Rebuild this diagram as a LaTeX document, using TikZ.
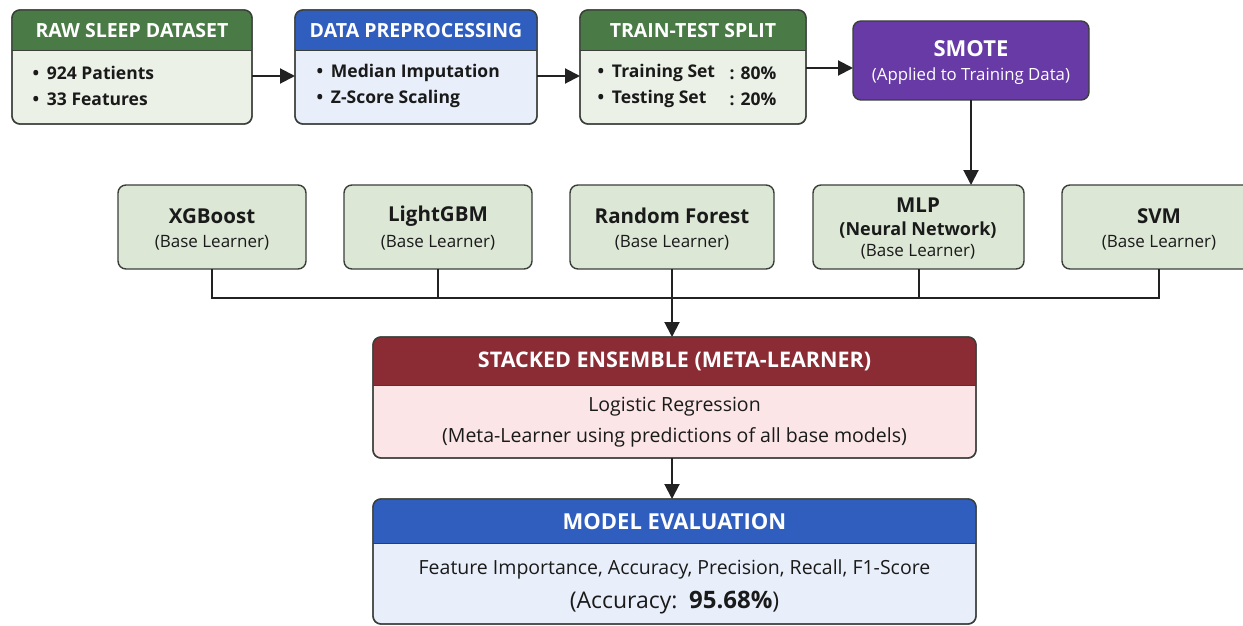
\documentclass[tikz,border=0pt]{standalone}
\usepackage{fontspec}
\setmainfont{Open Sans}
\usetikzlibrary{arrows.meta}
\definecolor{ghdr}{HTML}{4A7A46}
\definecolor{gbody}{HTML}{EBF1E7}
\definecolor{gbox}{HTML}{DCE7D5}
\definecolor{bhdr}{HTML}{2F5EBE}
\definecolor{bbody}{HTML}{E9EFFA}
\definecolor{purp}{HTML}{673AA6}
\definecolor{rhdr}{HTML}{8B2B34}
\definecolor{rbody}{HTML}{FBE5E6}
\definecolor{bordc}{HTML}{3A3F3A}
\definecolor{linec}{HTML}{222222}
\definecolor{txt}{HTML}{1A1A1A}
\tikzset{
  arr/.style={-{Triangle[length=15pt,width=15pt]}, line width=2pt, draw=linec},
  bus/.style={line width=2pt, draw=linec},
  hdrtxt/.style={text=white, font=\bfseries\fontsize{19.5}{22}\selectfont},
  bultxt/.style={text=txt, anchor=west, font=\bfseries\fontsize{17.5}{20}\selectfont},
  ttl/.style={text=txt, font=\bfseries\fontsize{20.5}{23}\selectfont},
  sub/.style={text=txt, font=\fontsize{17}{20}\selectfont},
  plain/.style={text=txt, font=\fontsize{19.5}{22}\selectfont},
}
% name, x1, y1, x2, y2, header bottom, header colour, body colour
\newcommand\mkbox[8]{%
  \node[draw=bordc, line width=1.4pt, rounded corners=8pt, fill=#8, inner sep=0pt, outer sep=0pt,
        minimum width=#4pt-#2pt, minimum height=#5pt-#3pt, anchor=north west] (#1) at (#2,#3) {};
  \begin{scope}
    \clip (#2,#3) rectangle (#4,#6);
    \fill[#7, rounded corners=8pt] (#1.south west) rectangle (#1.north east);
  \end{scope}
  \draw[bordc, line width=1.4pt, rounded corners=8pt] (#1.south west) rectangle (#1.north east);
  \draw[bordc, line width=1pt] (#2,#6) -- (#4,#6);
}
\newcommand\plainbox[6]{%
  \node[draw=bordc, line width=1.4pt, rounded corners=8pt, fill=#6, inner sep=0pt, outer sep=0pt,
        minimum width=#4pt-#2pt, minimum height=#5pt-#3pt, anchor=north west] (#1) at (#2,#3) {};
}
\newcommand\bul{\textbullet\hspace{0.45em}}
\begin{document}
\begin{tikzpicture}[x=1pt, y=-1pt]
\useasboundingbox (0,0) rectangle (1243,626);
\clip (0,0) rectangle (1243,626);
\fill[white] (0,0) rectangle (1243,626);

% top row
\mkbox{raw}{12}{10}{252}{124}{51}{ghdr}{gbody}
\node[hdrtxt] (rawh) at (132,31) {RAW SLEEP DATASET};
\node[bultxt] (raw1) at (29,73) {\bul 924 Patients};
\node[bultxt] (raw2) at (29,99) {\bul 33 Features};

\mkbox{prep}{295}{10}{537}{124}{51}{bhdr}{bbody}
\node[hdrtxt] (preph) at (416,31) {DATA PREPROCESSING};
\node[bultxt] (prep1) at (313,73) {\bul Median Imputation};
\node[bultxt] (prep2) at (313,99) {\bul Z-Score Scaling};

\mkbox{train}{580}{10}{806}{124}{51}{ghdr}{gbody}
\node[hdrtxt] (trainh) at (693,31) {TRAIN-TEST SPLIT};
\node[bultxt] (train1) at (594,73) {\bul Training Set};
\node[bultxt] (train2) at (594,99) {\bul Testing Set};
\node[bultxt] (train1v) at (726,73) {: 80\%};
\node[bultxt] (train2v) at (726,99) {: 20\%};

\plainbox{smote}{853}{21}{1089}{100}{purp}
\node[text=white, font=\bfseries\fontsize{22}{24}\selectfont] (smoteh) at (971,49) {SMOTE};
\node[text=white, font=\fontsize{16.8}{19}\selectfont] (smotes) at (971,76) {(Applied to Training Data)};

% base learners
\plainbox{xgb}{118}{185}{306}{269}{gbox}
\node[ttl] (xgbt) at (212,216) {XGBoost};
\node[sub] (xgbs) at (212,243) {(Base Learner)};

\plainbox{lgb}{344}{185}{532}{269}{gbox}
\node[ttl] (lgbt) at (438,216) {LightGBM};
\node[sub] (lgbs) at (438,243) {(Base Learner)};

\plainbox{rf}{570}{185}{774}{269}{gbox}
\node[ttl] (rft) at (672,216) {Random Forest};
\node[sub] (rfs) at (672,243) {(Base Learner)};

\plainbox{mlp}{813}{185}{1024}{269}{gbox}
\node[ttl] (mlpt) at (918,205) {MLP};
\node[ttl, font=\bfseries\fontsize{18}{20}\selectfont] (mlpn) at (918,230) {(Neural Network)};
\node[sub] (mlps) at (918,252) {(Base Learner)};

\plainbox{svm}{1062}{185}{1256}{269}{gbox}
\node[ttl] (svmt) at (1159,216) {SVM};
\node[sub] (svms) at (1159,243) {(Base Learner)};

% stacked ensemble
\mkbox{stack}{373}{337}{976}{458}{385}{rhdr}{rbody}
\node[hdrtxt, font=\bfseries\fontsize{21.5}{24}\selectfont] (stackh) at (674.5,361) {STACKED ENSEMBLE (META-LEARNER)};
\node[plain] (stack1) at (674.5,407) {Logistic Regression};
\node[plain] (stack2) at (674.5,437) {(Meta-Learner using predictions of all base models)};

% evaluation
\mkbox{eval}{373}{499}{976}{624}{543}{bhdr}{bbody}
\node[hdrtxt, font=\bfseries\fontsize{22}{24}\selectfont] (evalh) at (674.5,522) {MODEL EVALUATION};
\node[plain, font=\fontsize{19.5}{22}\selectfont] (eval1) at (674.5,569) {Feature Importance, Accuracy, Precision, Recall, F1-Score};
\node[plain, font=\fontsize{23}{25}\selectfont] (eval2) at (674.5,603) {(Accuracy:\hspace{0.5em}\textbf{\fontsize{24}{25}\selectfont 95.68\%})};

% connectors
\draw[arr] ([yshift=-9pt]raw.east) -- ([yshift=-9pt]prep.west);
\draw[arr] ([yshift=-9pt]prep.east) -- ([yshift=-9pt]train.west);
\draw[arr] ([yshift=-1pt]train.east) -- ([yshift=-1pt]train.east -| smote.west);
\draw[arr] (smote.south) -- (smote.south |- mlp.north);

\coordinate (busy) at (0,298);
\draw[bus] (xgb.south) -- (xgb.south |- busy) -- (svm.south |- busy) -- (svm.south);
\draw[bus] (lgb.south) -- (lgb.south |- busy);
\draw[bus] (mlp.south) -- (mlp.south |- busy);
\draw[arr] (rf.south) -- (rf.south |- stack.north);
\draw[arr] (stack.south -| rf.south) -- (rf.south |- eval.north);
\end{tikzpicture}
\end{document}
